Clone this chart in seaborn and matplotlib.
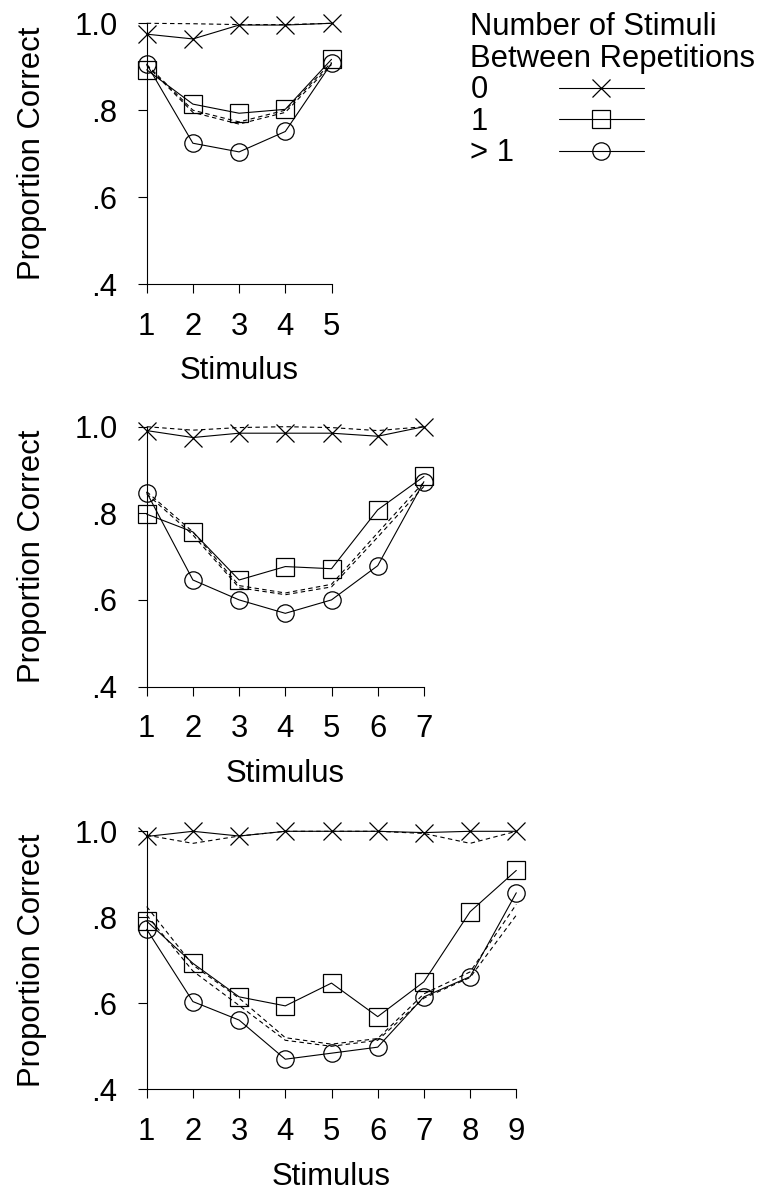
import numpy as np
import pandas as pd
import matplotlib
matplotlib.use("Agg")
import matplotlib.pyplot as plt
import seaborn as sns

# --- data ------------------------------------------------------------------
stim_5 = [1, 2, 3, 4, 5]
obs0_5 = [0.975, 0.964, 0.996, 0.996, 1.0]
obs1_5 = [0.893, 0.814, 0.793, 0.802, 0.917]
obs2_5 = [0.906, 0.724, 0.704, 0.751, 0.908]
pred0_5 = [1.0, 0.999, 0.997, 0.997, 1.0]
pred1_5 = [0.905, 0.800, 0.773, 0.800, 0.910]
pred2_5 = [0.903, 0.795, 0.768, 0.795, 0.905]

stim_7 = [1, 2, 3, 4, 5, 6, 7]
obs0_7 = [0.991, 0.975, 0.985, 0.985, 0.985, 0.978, 1.0]
obs1_7 = [0.798, 0.757, 0.646, 0.677, 0.672, 0.808, 0.885]
obs2_7 = [0.848, 0.646, 0.600, 0.569, 0.600, 0.679, 0.873]
pred0_7 = [1.0, 0.992, 0.998, 1.0, 0.998, 0.991, 1.0]
pred1_7 = [0.850, 0.757, 0.633, 0.616, 0.636, 0.755, 0.872]
pred2_7 = [0.845, 0.750, 0.628, 0.612, 0.630, 0.745, 0.862]

stim_9 = [1, 2, 3, 4, 5, 6, 7, 8, 9]
obs0_9 = [0.988, 1.0, 0.989, 1.0, 1.0, 1.0, 0.997, 1.0, 1.0]
obs1_9 = [0.791, 0.693, 0.615, 0.594, 0.647, 0.569, 0.650, 0.813, 0.909]
obs2_9 = [0.772, 0.604, 0.561, 0.470, 0.484, 0.498, 0.615, 0.662, 0.857]
pred0_9 = [0.991, 0.972, 0.989, 1.0, 1.0, 1.0, 0.995, 0.972, 1.0]
pred1_9 = [0.825, 0.689, 0.612, 0.520, 0.505, 0.518, 0.622, 0.673, 0.830]
pred2_9 = [0.805, 0.675, 0.595, 0.514, 0.500, 0.514, 0.612, 0.660, 0.805]

lag_levels = ["0", "1", "> 1"]
lag_markers = ["x", "s", "o"]
legend_labels = ["0   ", "1   ", "> 1"]
legend_title = "Number of Stimuli\nBetween Repetitions"
ytick_vals = [0.4, 0.6, 0.8, 1.0]
ytick_labels = [".4", ".6", ".8", "1.0"]

sns.set_style("ticks")
plt.rcParams["font.family"] = ["Liberation Sans", "DejaVu Sans"]
for key in ["text.color", "axes.labelcolor", "xtick.color", "ytick.color"]:
    plt.rcParams[key] = "black"
FS = 22.3

panels = [
    (stim_5, (obs0_5, obs1_5, obs2_5), (pred0_5, pred1_5, pred2_5)),
    (stim_7, (obs0_7, obs1_7, obs2_7), (pred0_7, pred1_7, pred2_7)),
    (stim_9, (obs0_9, obs1_9, obs2_9), (pred0_9, pred1_9, pred2_9)),
]

fig = plt.figure(figsize=(7.82, 11.96), dpi=100)
W, H = 782, 1196
step = 46.2
# axes placement in pixels: (left, y of the 1.0 level, y of the .4 level)
boxes = [(146.7, 23.3, 284.0), (146.7, 426.7, 686.5), (146.7, 831.3, 1089.3)]

axes = []
data_handles = []
for (stim, obs, pred), (x0, ytop, ybot) in zip(panels, boxes):
    width = step * (len(stim) - 1)
    ax = fig.add_axes([x0 / W, 1 - ybot / H, width / W, (ybot - ytop) / H])
    axes.append(ax)

    # model predictions (dashed, no markers)
    for vals in pred:
        sns.lineplot(x=stim, y=vals, color="black", lw=0.8, dashes=(4, 3),
                     legend=False, errorbar=None, ax=ax, clip_on=False)
    # observed data (solid with open markers)
    handles = []
    for vals, mk in zip(obs, lag_markers):
        sns.lineplot(x=stim, y=vals, color="black", lw=0.8, marker=mk,
                     ms=12.5, mfc="none", mec="black", mew=0.9,
                     legend=False, errorbar=None, ax=ax, clip_on=False)
        handles.append(ax.get_lines()[-1])
    data_handles.append(handles)

    ax.set_xlim(stim[0], stim[-1])
    ax.set_ylim(0.4, 1.0)
    ax.set_xticks(stim)
    ax.set_xticklabels([str(s) for s in stim])
    ax.set_yticks(ytick_vals)
    ax.set_yticklabels(ytick_labels)
    ax.tick_params(axis="both", direction="out", length=6.5, width=0.8,
                   labelsize=FS, color="black", labelcolor="black")
    ax.tick_params(axis="x", pad=13.5)
    ax.tick_params(axis="y", pad=14.5)
    ax.set_xlabel("Stimulus", fontsize=FS, labelpad=10.5)
    ax.set_ylabel("Proportion Correct", fontsize=FS, labelpad=20)
    for loc in ["top", "right"]:
        ax.spines[loc].set_visible(False)
    for loc in ["left", "bottom"]:
        ax.spines[loc].set_linewidth(0.8)
        ax.spines[loc].set_color("black")
    ax.set_facecolor("none")

top = axes[0]
leg = top.legend(data_handles[0], legend_labels, title=legend_title,
                 loc="upper left", bbox_to_anchor=(470 / W, 1 - 12 / H),
                 bbox_transform=fig.transFigure, frameon=False,
                 markerfirst=False, alignment="left", fontsize=FS,
                 title_fontsize=FS, handlelength=2.75, handletextpad=1.45,
                 labelspacing=0.05, borderpad=0, borderaxespad=0)
leg.get_title().set_linespacing(1.08)
for t in leg.get_texts():
    t.set_color("black")

fig.savefig("out.png", dpi=100, facecolor="white")
